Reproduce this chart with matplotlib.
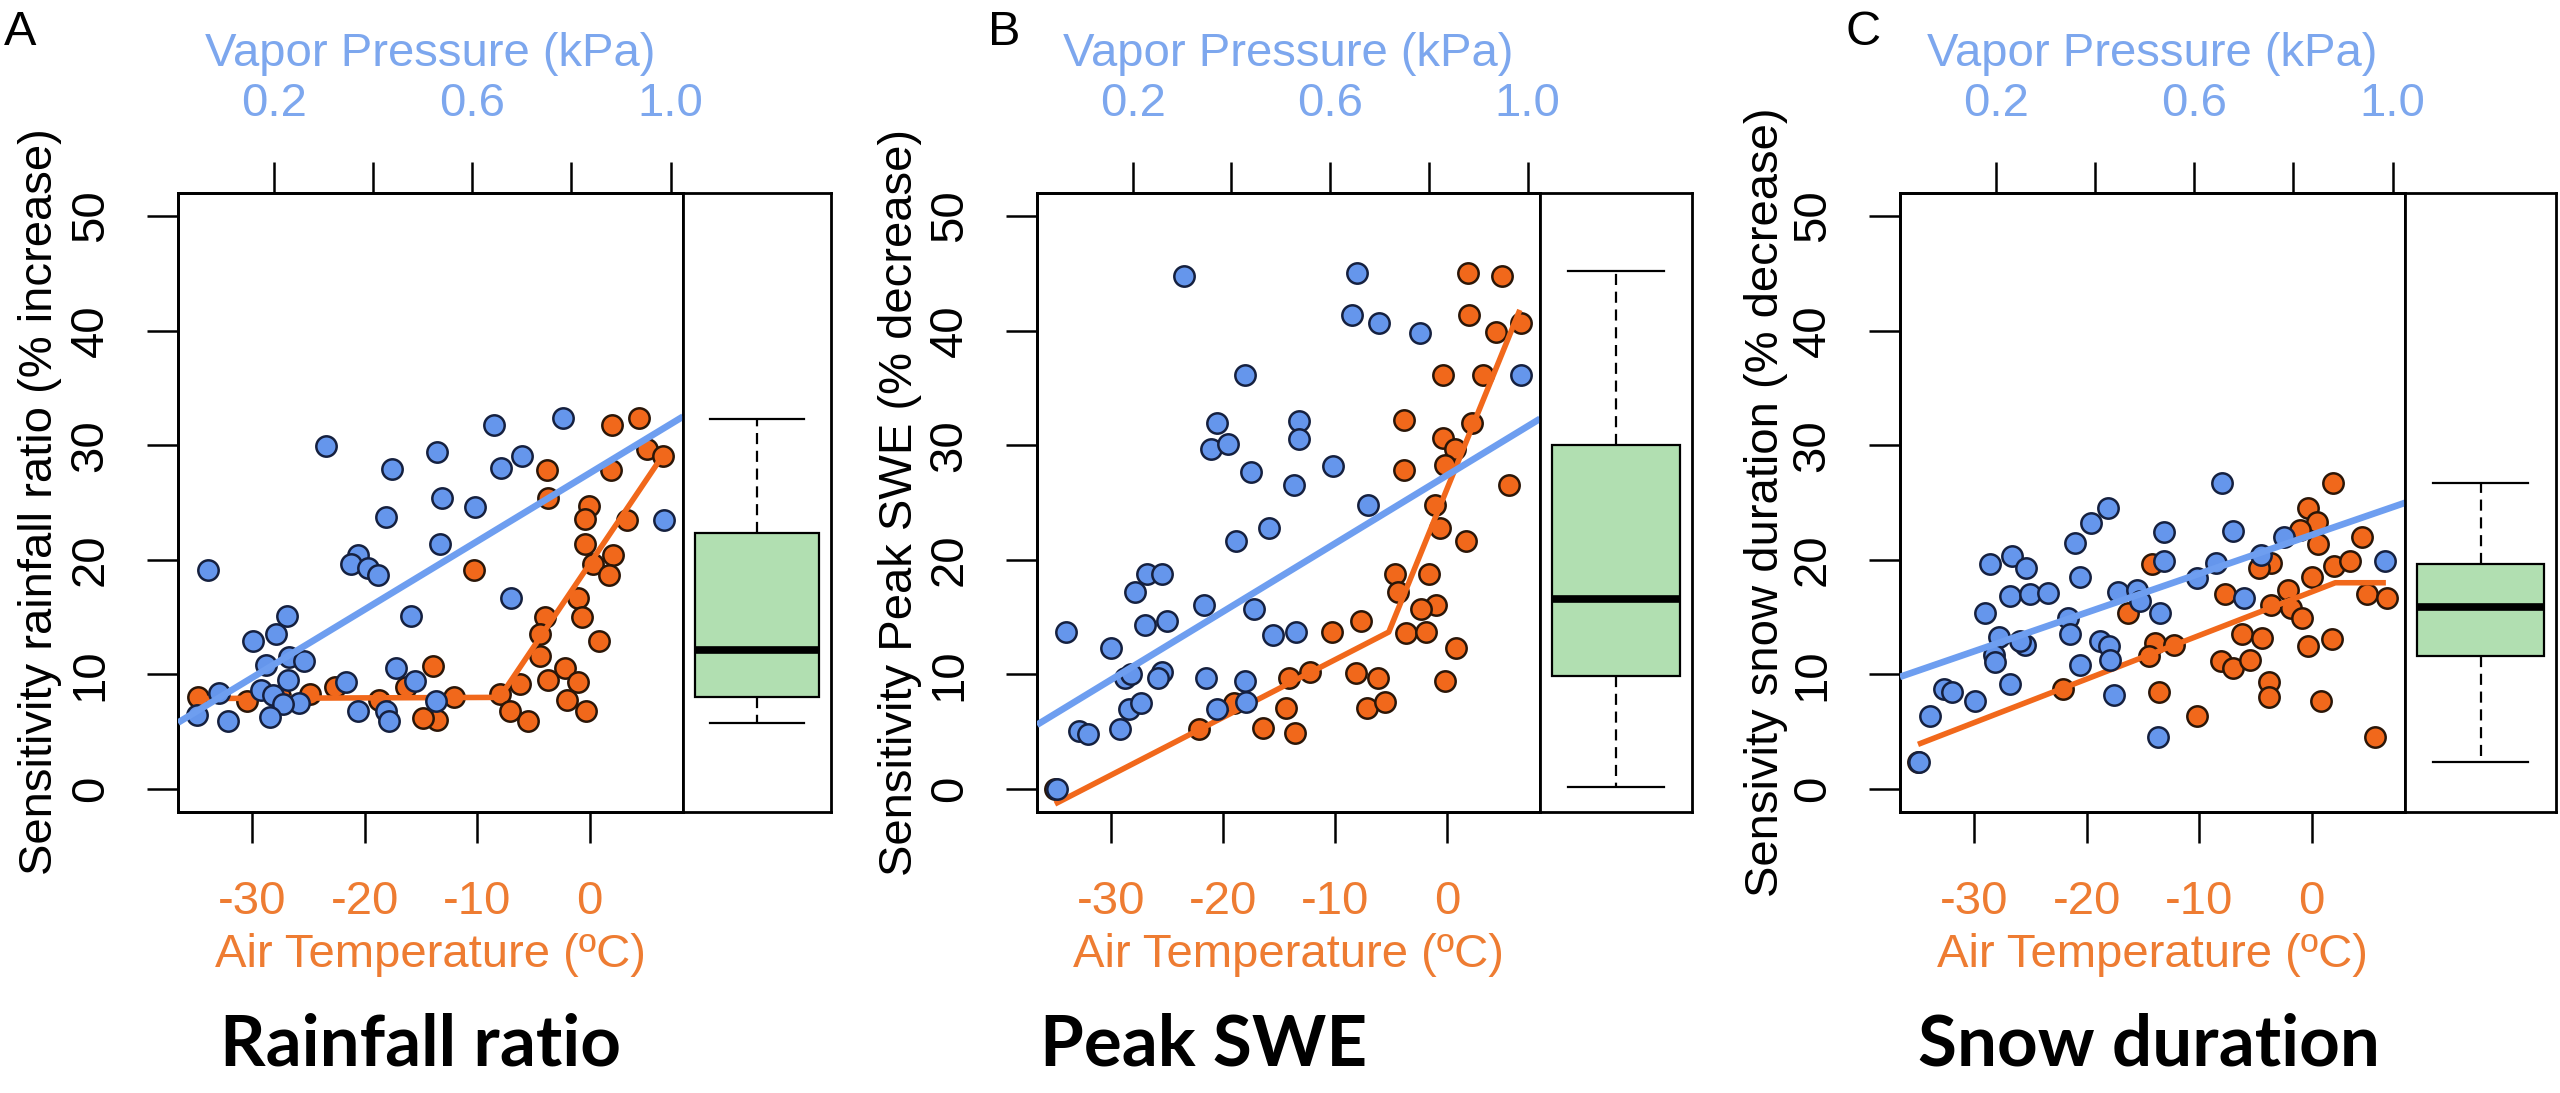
import matplotlib
matplotlib.use('Agg')
import matplotlib.pyplot as plt

plt.rcParams['font.family'] = ['Liberation Sans', 'DejaVu Sans']

# ---------------- data ----------------
# Panel A: rainfall ratio
a_vp = [0.304, 0.438, 0.426, 0.066, 0.369, 0.356, 0.389, 0.409, 0.477, 0.226,
        0.204, 0.157, 0.184, 0.230, 0.261, 0.228, 0.174, 0.197, 0.089, 0.251,
        0.218, 0.044, 0.106, 0.192, 0.345, 0.369, 0.426, 0.431, 0.445, 0.485,
        0.527, 0.644, 0.783, 0.529, 0.657, 0.700, 0.539, 0.605, 0.535, 0.677,
        0.986]
a_vp_sens = [29.9, 27.9, 23.7, 19.1, 20.4, 19.6, 19.3, 18.7, 15.1, 15.1,
             13.5, 12.9, 10.8, 11.5, 11.2, 9.5, 8.6, 8.2, 8.4, 7.5,
             7.4, 6.5, 5.9, 6.3, 9.3, 6.8, 6.8, 5.9, 10.6, 9.4,
             7.7, 31.8, 32.4, 29.4, 28.0, 29.1, 25.4, 24.6, 21.4, 16.7,
             23.5]
a_temp = [2.0, 4.4, -3.8, 5.1, 6.5, 1.9, -3.7, -0.1, -0.4, 3.3,
          -0.4, 2.1, 0.3, 1.7, -10.3, -1.0, -0.7, 0.8, -4.0, -4.4,
          -4.4, -6.2, -3.7, -2.2, -1.0, -2.0, -0.3, -8.0, -7.1, -5.5,
          -13.9, -12.1, -13.6, -14.8, -22.6, -18.7, -16.3, -24.9, -34.8, -30.5,
          -27.5]
a_temp_sens = [31.8, 32.4, 27.8, 29.7, 29.1, 27.8, 25.4, 24.7, 23.6, 23.5,
               21.4, 20.4, 19.6, 18.7, 19.1, 16.7, 15.0, 12.9, 15.0, 13.5,
               11.6, 9.2, 9.5, 10.6, 9.3, 7.8, 6.8, 8.3, 6.8, 5.9,
               10.7, 8.0, 6.0, 6.2, 8.9, 7.8, 8.9, 8.3, 8.0, 7.7,
               8.1]
a_vp_fit = [5.64, 26.2]              # intercept, slope
a_seg_temp = [-35.0, -8.0, 6.5]
a_seg_sens = [7.9, 8.0, 29.1]
a_box = [5.8, 8.0, 12.1, 22.3, 32.3]   # low whisker, q1, median, q3, high whisker

# Panel B: peak SWE
b_vp = [0.304, 0.427, 0.370, 0.359, 0.392, 0.439, 0.477, 0.410, 0.228, 0.260,
        0.205, 0.345, 0.446, 0.225, 0.269, 0.065, 0.156, 0.484, 0.185, 0.197,
        0.259, 0.251, 0.349, 0.427, 0.192, 0.216, 0.370, 0.430, 0.091, 0.110,
        0.175, 0.046, 0.655, 0.644, 0.699, 0.781, 0.987, 0.537, 0.537, 0.605,
        0.527, 0.677, 0.531]
b_vp_sens = [44.8, 36.1, 31.9, 29.7, 30.1, 27.7, 22.8, 21.6, 18.8, 18.8,
             17.2, 16.1, 15.7, 14.3, 14.7, 13.7, 12.3, 13.4, 9.7, 10.0,
             10.2, 9.7, 9.7, 9.4, 7.0, 7.5, 7.0, 7.6, 5.1, 4.8,
             5.2, 0.0, 45.0, 41.4, 40.7, 39.8, 36.1, 32.1, 30.5, 28.2,
             26.5, 24.8, 13.7]
b_temp = [1.9, 4.9, 2.0, 6.6, 4.4, -0.4, 3.2, -3.8, 2.2, -0.4,
          0.7, -0.2, -3.8, 5.5, -1.1, -0.6, 1.7, -4.6, -1.6, -4.4,
          -1.0, -2.3, -3.7, -1.9, -7.7, -10.3, 0.8, -8.1, -6.2, -0.2,
          -12.2, -14.1, -7.1, -5.5, -14.4, -13.6, -22.1, -16.4, -19.0, -35.0]
b_temp_sens = [45.0, 44.8, 41.4, 40.7, 39.9, 36.1, 36.1, 32.2, 31.9, 30.6,
               29.7, 28.3, 27.8, 26.5, 24.8, 22.8, 21.6, 18.8, 18.8, 17.2,
               16.1, 15.7, 13.6, 13.7, 14.7, 13.7, 12.3, 10.1, 9.7, 9.4,
               10.2, 9.7, 7.1, 7.6, 7.1, 4.9, 5.2, 5.3, 7.5, 0.0]
b_vp_fit = [5.45, 26.2]
b_seg_temp = [-35.0, -5.2, 6.5]
b_seg_sens = [-1.3, 13.7, 41.8]
b_box = [0.2, 9.9, 16.6, 30.0, 45.2]

# Panel C: snow duration
c_vp = [0.426, 0.391, 0.359, 0.187, 0.232, 0.260, 0.369, 0.228, 0.269, 0.305,
        0.178, 0.446, 0.484, 0.490, 0.346, 0.349, 0.205, 0.258, 0.248, 0.410,
        0.428, 0.195, 0.198, 0.430, 0.369, 0.227, 0.094, 0.111, 0.158, 0.438,
        0.066, 0.045, 0.656, 0.539, 0.678, 0.781, 0.539, 0.644, 0.734, 0.606,
        0.700, 0.530, 0.985, 0.527]
c_vp_sens = [24.5, 23.2, 21.5, 19.6, 20.3, 19.3, 18.5, 16.8, 17.0, 17.1,
             15.4, 17.2, 17.4, 16.4, 14.9, 13.5, 13.3, 12.6, 12.9, 12.9,
             12.5, 11.7, 11.1, 11.3, 10.8, 9.2, 8.7, 8.5, 7.7, 8.2,
             6.4, 2.4, 26.7, 22.4, 22.5, 22.0, 19.9, 19.7, 20.4, 18.4,
             16.7, 15.4, 19.9, 4.5]
c_temp = [1.9, -0.3, 0.5, -1.0, 0.6, 4.5, -14.2, -3.6, -4.7, 2.0,
          3.4, 0.0, -2.1, -7.7, -3.6, -1.8, -0.9, 4.9, 6.7, -13.9,
          -12.2, -14.5, -6.2, -4.4, -0.3, 1.8, -8.1, -7.0, -5.5, -3.8,
          -3.8, -13.6, -10.2, 0.8, 5.6, -22.1, -16.3, -35.0]
c_temp_sens = [26.7, 24.5, 23.3, 22.6, 21.4, 22.0, 19.6, 19.7, 19.3, 19.5,
               19.9, 18.5, 17.4, 17.0, 16.1, 15.8, 14.9, 17.0, 16.7, 12.7,
               12.6, 11.6, 13.5, 13.2, 12.5, 13.1, 11.2, 10.6, 11.3, 9.3,
               8.0, 8.5, 6.4, 7.7, 4.5, 8.7, 15.4, 2.4]
c_vp_fit = [9.7, 14.9]
c_seg_temp = [-35.0, 2.1, 6.6]
c_seg_sens = [3.9, 18.0, 18.0]
c_box = [2.4, 11.6, 15.9, 19.6, 26.7]

letters = ['A', 'B', 'C']
titles = ['Rainfall ratio', 'Peak SWE', 'Snow duration']
ylabels = ['Sensitivity rainfall ratio (% increase)',
           'Sensitivity Peak SWE (% decrease)',
           'Sensivity snow duration (% decrease)']
temp_ticks = [-30, -20, -10, 0]
vp_ticks = [0.2, 0.4, 0.6, 0.8, 1.0]
vp_ticklabels = ['0.2', '', '0.6', '', '1.0']
sens_ticks = [0, 10, 20, 30, 40, 50]

# ---------------- styling ----------------
W, H = 2560, 1093
BLUE = '#6596EC'
BLUE_LINE = '#6E9EF0'
BLUE_TEXT = '#7DA7EE'
ORANGE = '#F1681B'
ORANGE_TEXT = '#EE7C32'
GREEN = '#B1DFB1'
FS = 34

temp_lim = (-36.6, 8.3)
vp_lim = (0.006, 1.025)
sens_lim = (-2.0, 52.0)


def px_rect(x0, y0, x1, y1):
    return [x0 / W, 1 - y1 / H, (x1 - x0) / W, (y1 - y0) / H]


def draw_panel(fig, i, left, right, box_right, vp, vp_sens, temp, temp_sens,
               vp_fit, seg_temp, seg_sens, box, ylabel_x, title_x, letter_x):
    top, bottom = 193, 812
    ax = fig.add_axes(px_rect(left, top, right, bottom))
    ax.set_xlim(temp_lim)
    ax.set_ylim(sens_lim)

    # orange: air temperature (bottom axis)
    ax.scatter(temp, temp_sens, s=215, c=ORANGE, edgecolors='#2a1608',
               linewidths=1.8, zorder=2)
    ax.plot(seg_temp, seg_sens, color=ORANGE, lw=4.0, zorder=3,
            solid_capstyle='butt')
    ax.set_xticks(temp_ticks)
    ax.set_xticklabels([str(t) for t in temp_ticks])
    ax.set_yticks(sens_ticks)
    ax.tick_params(axis='x', length=22, width=1.8, pad=27, labelsize=FS,
                   labelcolor=ORANGE_TEXT, direction='out')
    ax.tick_params(axis='y', length=22, width=1.8, pad=25, labelsize=FS,
                   direction='out', labelrotation=90)
    for lab in ax.get_yticklabels():
        lab.set_va('center')

    # blue: vapor pressure (top axis)
    ax2 = ax.twiny()
    ax2.set_xlim(vp_lim)
    ax2.set_ylim(sens_lim)
    ax2.scatter(vp, vp_sens, s=215, c=BLUE, edgecolors='#15203f',
                linewidths=1.8, zorder=2)
    xs = list(vp_lim)
    ax2.plot(xs, [vp_fit[0] + vp_fit[1] * x for x in xs], color=BLUE_LINE,
             lw=4.8, zorder=3, solid_capstyle='butt')
    ax2.set_xticks(vp_ticks)
    ax2.set_xticklabels(vp_ticklabels)
    ax2.tick_params(axis='x', length=22, width=1.8, pad=26, labelsize=FS,
                    labelcolor=BLUE_TEXT, direction='out')
    for a in (ax, ax2):
        for sp in a.spines.values():
            sp.set_linewidth(2.0)

    # boxplot panel
    axb = fig.add_axes(px_rect(right, top, box_right, bottom))
    axb.set_ylim(sens_lim)
    axb.set_xlim(0.5, 1.5)
    stats = [dict(whislo=box[0], q1=box[1], med=box[2], q3=box[3],
                  whishi=box[4], fliers=[])]
    axb.bxp(stats, positions=[1], widths=0.84, capwidths=0.63,
            patch_artist=True, showfliers=False,
            boxprops=dict(facecolor=GREEN, edgecolor='black', linewidth=1.6),
            medianprops=dict(color='black', linewidth=5.5, solid_capstyle='butt'),
            whiskerprops=dict(color='black', linewidth=1.6, linestyle=(0, (5, 3))),
            capprops=dict(color='black', linewidth=1.6))
    axb.set_xticks([])
    axb.set_yticks([])
    for sp in axb.spines.values():
        sp.set_linewidth(2.0)

    # texts
    cx = (left + right) / 2
    fig.text(cx / W, 1 - 54 / H, 'Vapor Pressure (kPa)', color=BLUE_TEXT,
             fontsize=FS, ha='center', va='center')
    fig.text(cx / W, 1 - 955 / H, 'Air Temperature (\u00baC)', color=ORANGE_TEXT,
             fontsize=FS, ha='center', va='center')
    fig.text(ylabel_x / W, 1 - 502 / H, ylabels[i], rotation=90,
             fontsize=FS, ha='center', va='center')
    fig.text(letter_x / W, 1 - 10 / H, letters[i], fontsize=FS + 1,
             ha='left', va='top')
    fig.text(title_x / W, 1 - 1045 / H, titles[i], fontsize=51,
             fontweight='bold', family=['Lato', 'DejaVu Sans'],
             ha='center', va='center')


fig = plt.figure(figsize=(W / 100, H / 100), dpi=100)
fig.patch.set_facecolor('white')

draw_panel(fig, 0, 178, 683, 831, a_vp, a_vp_sens, a_temp, a_temp_sens,
           a_vp_fit, a_seg_temp, a_seg_sens, a_box, 40, 420, 4)
draw_panel(fig, 1, 1037, 1540, 1692, b_vp, b_vp_sens, b_temp, b_temp_sens,
           b_vp_fit, b_seg_temp, b_seg_sens, b_box, 900, 1204, 988)
draw_panel(fig, 2, 1900, 2405, 2556, c_vp, c_vp_sens, c_temp, c_temp_sens,
           c_vp_fit, c_seg_temp, c_seg_sens, c_box, 1766, 2149, 1845)

fig.savefig('out.png', dpi=100, facecolor='white')
